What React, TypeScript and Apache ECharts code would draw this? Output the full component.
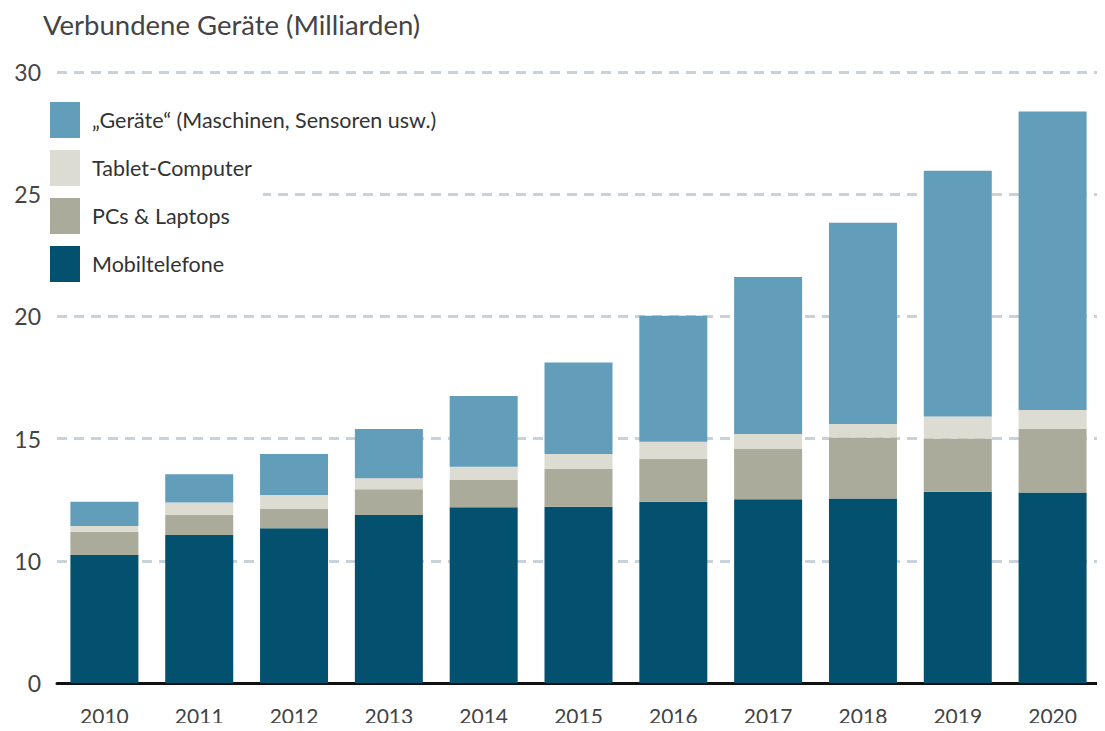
import React, { useEffect, useRef } from "react";
import * as echarts from "echarts";

const years = ["2010", "2011", "2012", "2013", "2014", "2015", "2016", "2017", "2018", "2019", "2020"];
const mobil = [10.24, 11.06, 11.33, 11.87, 12.19, 12.21, 12.42, 12.52, 12.55, 12.83, 12.79];
const pcs = [0.95, 0.81, 0.79, 1.06, 1.12, 1.55, 1.75, 2.05, 2.5, 2.17, 2.6];
const tablets = [0.23, 0.52, 0.57, 0.45, 0.54, 0.61, 0.7, 0.62, 0.55, 0.9, 0.78];
const geraete = [1.0, 1.15, 1.68, 2.01, 2.89, 3.74, 5.16, 6.42, 8.23, 10.06, 12.21];

const names = {
  geraete: "„Geräte“ (Maschinen, Sensoren usw.)",
  tablets: "Tablet-Computer",
  pcs: "PCs & Laptops",
  mobil: "Mobiltelefone",
};
const title = "Verbundene Geräte (Milliarden)";
// axis is broken: bottom tick (axis start 5) is labelled "0"
const axisStart = 5;

export default function App() {
  const ref = useRef<HTMLDivElement>(null);
  useEffect(() => {
    if (!ref.current) return;
    const chart = echarts.init(ref.current, undefined, { renderer: "svg" });
    const font = "Lato";
    const bar = (name: string, data: number[], color: string) => ({
      name,
      type: "bar",
      stack: "all",
      data,
      barWidth: 68,
      clip: true,
      itemStyle: { color },
      emphasis: { disabled: true },
    });
    chart.setOption({
      animation: false,
      backgroundColor: "#ffffff",
      textStyle: { fontFamily: font },
      title: {
        text: title,
        left: 38,
        top: 5,
        textStyle: { fontFamily: font, fontSize: 27.5, fontWeight: "normal", color: "#444444" },
      },
      legend: {
        orient: "vertical",
        left: 50,
        top: 102,
        padding: 0,
        itemWidth: 30,
        itemHeight: 36,
        itemGap: 12,
        icon: "rect",
        selectedMode: false,
        data: [names.geraete, names.tablets, names.pcs, names.mobil],
        textStyle: { fontFamily: font, fontSize: 21.5, color: "#333333", padding: [0, 0, 0, 7] },
      },
      graphic: [
        {
          type: "rect",
          z: 1,
          shape: { x: 45, y: 187, width: 218, height: 16 },
          style: { fill: "#ffffff" },
        },
      ],
      grid: { left: 57, right: 5, top: 72, bottom: 48, containLabel: false },
      xAxis: {
        type: "category",
        data: years,
        axisTick: { show: false },
        axisLine: { lineStyle: { color: "#111111", width: 3 } },
        axisLabel: { fontFamily: font, fontSize: 21, color: "#444444", margin: 22 },
      },
      yAxis: {
        type: "value",
        min: axisStart,
        max: 30,
        interval: 5,
        axisLine: { show: false },
        axisTick: { show: false },
        axisLabel: {
          fontFamily: font,
          fontSize: 23,
          color: "#444444",
          margin: 16,
          formatter: (v: number) => (v === axisStart ? "0" : String(v)),
        },
        splitLine: {
          lineStyle: { color: "#c8d2da", width: 3, type: [10, 7] },
        },
      },
      series: [
        bar(names.mobil, mobil, "#04506f"),
        bar(names.pcs, pcs, "#aaab9b"),
        bar(names.tablets, tablets, "#dcdcd2"),
        bar(names.geraete, geraete, "#629dba"),
      ],
    });
    return () => chart.dispose();
  }, []);
  return <div ref={ref} style={{ width: 1105, height: 731, margin: -8 }} />;
}
